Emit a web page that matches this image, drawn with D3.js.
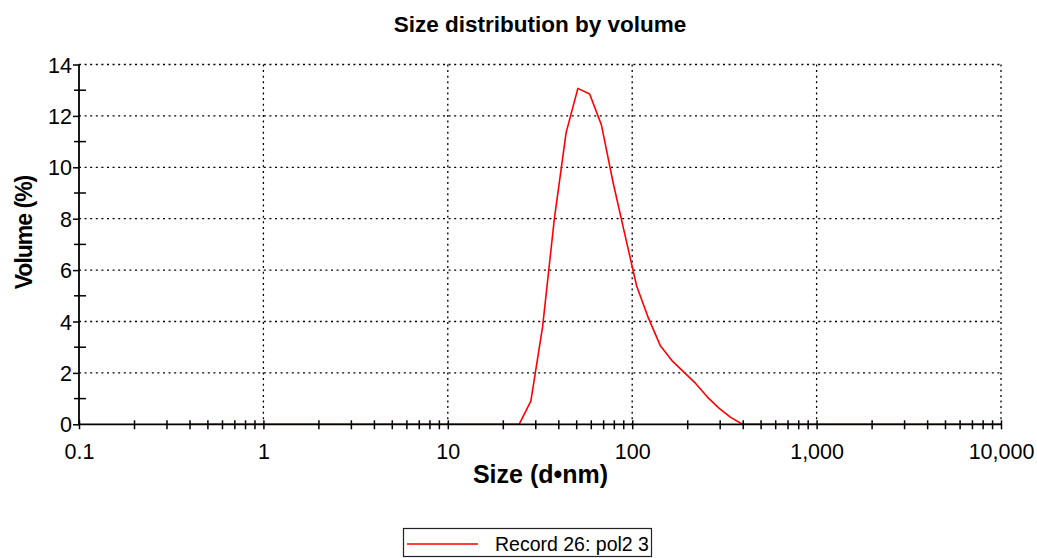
<!DOCTYPE html>
<html>
<head>
<meta charset="utf-8">
<script src="https://cdn.jsdelivr.net/npm/d3@7"></script>
<style>
  body { margin: 0; background: #fff; }
  text { font-family: "Liberation Sans", Arial, sans-serif; fill: #000; }
  .grid line { stroke: #000; stroke-width: 1.3; stroke-dasharray: 2,3.6; }
</style>
</head>
<body>
<svg id="chart" width="1037" height="558"></svg>
<script>
// size bins (d.nm) and volume (%)
var sizes = [0.4, 0.4632, 0.5365, 0.6213, 0.7195, 0.8332, 0.9649, 1.117, 1.294, 1.499,
    1.736, 2.010, 2.328, 2.696, 3.122, 3.615, 4.187, 4.849, 5.615, 6.503,
    7.531, 8.721, 10.10, 11.70, 13.54, 15.69, 18.17, 21.04, 24.36, 28.21,
    32.67, 37.84, 43.82, 50.75, 58.77, 68.06, 78.82, 91.28, 105.7, 122.4,
    141.8, 164.2, 190.1, 220.2, 255.0, 295.3, 342.0, 396.1, 458.7, 531.2,
    615.1, 712.4, 825.0, 955.4, 1106, 1281, 1484, 1718, 1990, 2305,
    2669, 3091, 3580, 4145, 4801, 5560, 6439, 7456, 8635, 10000];
var volumes = [0, 0, 0, 0, 0, 0, 0, 0, 0, 0,
    0, 0, 0, 0, 0, 0, 0, 0, 0, 0,
    0, 0, 0, 0, 0, 0, 0, 0, 0, 0.9,
    3.8, 8.0, 11.35, 13.07, 12.85, 11.65, 9.4, 7.38, 5.38, 4.14,
    3.07, 2.48, 2.04, 1.6, 1.07, 0.63, 0.27, 0, 0, 0,
    0, 0, 0, 0, 0, 0, 0, 0, 0, 0,
    0, 0, 0, 0, 0, 0, 0, 0, 0, 0];
var xTicks = [0.1, 1, 10, 100, 1000, 10000];
var yTicks = [0, 2, 4, 6, 8, 10, 12, 14];
var yMinor = [1, 3, 5, 7, 9, 11, 13];
var seriesName = "Record 26: pol2 3";

var svg = d3.select("#chart");
var pLeft = 79, pRight = 1001, pTop = 64.5, pBottom = 424.3;

var x = d3.scaleLog().domain([0.1, 10000]).range([pLeft, pRight]);
var y = d3.scaleLinear().domain([0, 14]).range([pBottom, pTop]);

// minor x ticks 2..9 in every decade
var xMinor = [];
xTicks.slice(0, -1).forEach(function(d) {
    for (var k = 2; k <= 9; k++) xMinor.push(d * k);
});

// title
svg.append("text")
    .attr("x", (pLeft + pRight) / 2)
    .attr("y", 32)
    .attr("text-anchor", "middle")
    .style("font-size", "22.5px")
    .style("font-weight", "bold")
    .text("Size distribution by volume");

// dotted grid
var grid = svg.append("g").attr("class", "grid");
grid.selectAll(".gy")
    .data(yTicks.slice(1))
    .enter().append("line")
    .attr("x1", pLeft).attr("x2", pRight)
    .attr("y1", function(d) { return y(d); })
    .attr("y2", function(d) { return y(d); });
grid.selectAll(".gx")
    .data(xTicks.slice(1))
    .enter().append("line")
    .attr("x1", function(d) { return x(d); })
    .attr("x2", function(d) { return x(d); })
    .attr("y1", pTop).attr("y2", pBottom);

// the curve
var line = d3.line()
    .x(function(d) { return x(d[0]); })
    .y(function(d) { return y(d[1]); });

svg.append("path")
    .datum(d3.zip(sizes, volumes))
    .attr("fill", "none")
    .attr("stroke", "#ff0000")
    .attr("stroke-width", 1.6)
    .attr("stroke-linejoin", "round")
    .attr("d", line);

// y axis
var yAxis = svg.append("g").attr("class", "axis y")
    .attr("transform", "translate(" + pLeft + ",0)")
    .call(d3.axisLeft(y).tickValues(yTicks).tickSize(6).tickPadding(1));
yAxis.select(".domain").attr("stroke", "#000").attr("stroke-width", 1.8)
    .attr("d", "M0," + pBottom + "V" + pTop);
yAxis.selectAll(".tick line").attr("stroke-width", 1.5);
yAxis.selectAll(".tick text").style("font-size", "21.5px").attr("dy", "0.35em");

svg.append("g").selectAll("line")
    .data(yMinor)
    .enter().append("line")
    .attr("x1", pLeft - 5).attr("x2", pLeft + 7)
    .attr("y1", function(d) { return y(d); })
    .attr("y2", function(d) { return y(d); })
    .attr("stroke", "#000").attr("stroke-width", 1.5);

// x axis
var fmt = d3.format(",");
var xAxis = svg.append("g").attr("class", "axis x")
    .attr("transform", "translate(0," + pBottom + ")")
    .call(d3.axisBottom(x).tickValues(xTicks).tickSize(5).tickPadding(14)
        .tickFormat(function(d) { return d < 1 ? "0.1" : fmt(d); }));
xAxis.select(".domain").attr("stroke", "#000").attr("stroke-width", 1.8)
    .attr("d", "M" + pLeft + ",0H" + pRight);
xAxis.selectAll(".tick line").attr("y1", -4).attr("stroke-width", 1.5);
xAxis.selectAll(".tick text").style("font-size", "21.5px");

svg.append("g").selectAll("line")
    .data(xMinor)
    .enter().append("line")
    .attr("x1", function(d) { return x(d); })
    .attr("x2", function(d) { return x(d); })
    .attr("y1", pBottom - 4).attr("y2", pBottom + 5)
    .attr("stroke", "#000").attr("stroke-width", 1.5);

// axis labels
svg.append("text")
    .attr("x", 540.5)
    .attr("y", 483)
    .attr("text-anchor", "middle")
    .style("font-size", "25px")
    .style("font-weight", "bold")
    .text("Size (d\u2022nm)");

svg.append("text")
    .attr("transform", "translate(32,232.5) rotate(-90)")
    .attr("text-anchor", "middle")
    .style("font-size", "23px")
    .style("font-weight", "bold")
    .style("letter-spacing", "-1px")
    .text("Volume (%)");

// legend
var legend = svg.append("g").attr("class", "legend");
legend.append("rect")
    .attr("x", 403.5).attr("y", 528.5)
    .attr("width", 248).attr("height", 28)
    .attr("fill", "#fff").attr("stroke", "#222").attr("stroke-width", 1.2);
legend.append("line")
    .attr("x1", 407).attr("x2", 478)
    .attr("y1", 544).attr("y2", 544)
    .attr("stroke", "#ff0000").attr("stroke-width", 1.6);
legend.append("text")
    .attr("x", 495).attr("y", 551)
    .style("font-size", "19.5px")
    .text(seriesName);
</script>
</body>
</html>
